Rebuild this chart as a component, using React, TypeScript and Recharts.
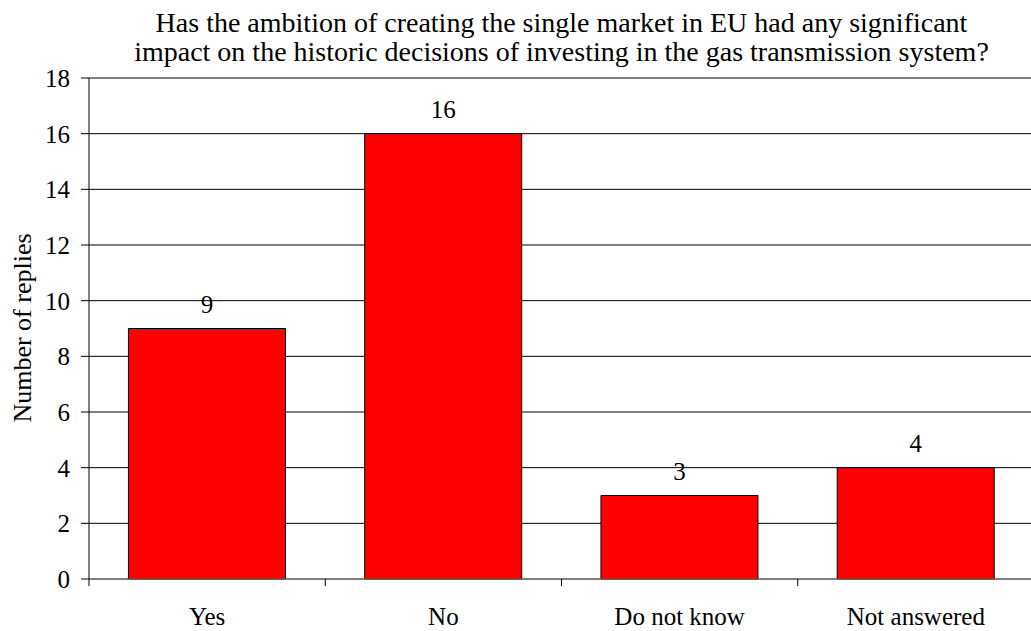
import React from 'react';
import { BarChart, Bar, XAxis, YAxis, CartesianGrid, LabelList } from 'recharts';

const categories = ['Yes', 'No', 'Do not know', 'Not answered'];
const replies = [9, 16, 3, 4];
const yTicks = [0, 2, 4, 6, 8, 10, 12, 14, 16, 18];

const chartData = categories.map((name, i) => ({ name, value: replies[i] }));

const FONT = '"Liberation Serif", "Times New Roman", serif';
const CHART_W = 1040;
const CHART_H = 631;
const MARGIN = { top: 78, right: 6, left: 0, bottom: 0 };
const Y_AXIS_W = 89;
const X_AXIS_H = 52;
const BAND = (CHART_W - MARGIN.left - MARGIN.right - Y_AXIS_W) / categories.length;

const CategoryTick = (props: any) => {
  const { x, y, payload } = props;
  return (
    <g>
      <line x1={x - BAND / 2} x2={x - BAND / 2} y1={y} y2={y + 7} stroke="#000" strokeWidth={1} />
      <text x={x} y={y + 46} textAnchor="middle" fontSize={25} fontFamily={FONT} fill="#000">
        {payload.value}
      </text>
    </g>
  );
};

const YLabel = () => (
  <text
    x={22}
    y={328}
    transform="rotate(-90 22 328)"
    textAnchor="middle"
    dominantBaseline="central"
    fontSize={26}
    fontFamily={FONT}
    fill="#000"
  >
    Number of replies
  </text>
);

export default function App() {
  return (
    <div
      style={{
        position: 'fixed',
        left: 0,
        top: 0,
        width: 1031,
        height: 631,
        overflow: 'hidden',
        background: '#fff',
      }}
    >
      <div
        style={{
          position: 'absolute',
          left: Y_AXIS_W - 10,
          top: 8,
          width: CHART_W - MARGIN.right - Y_AXIS_W + 20,
          textAlign: 'center',
          fontFamily: FONT,
          fontSize: 28,
          lineHeight: '29px',
          color: '#000',
          whiteSpace: 'nowrap',
        }}
      >
        Has the ambition of creating the single market in EU had any significant
        <br />
        impact on the historic decisions of investing in the gas transmission system?
      </div>
      <BarChart
        width={CHART_W}
        height={CHART_H}
        data={chartData}
        margin={MARGIN}
        barCategoryGap="16.7%"
      >
        <CartesianGrid vertical={false} stroke="#000" strokeWidth={1} />
        <XAxis
          dataKey="name"
          height={X_AXIS_H}
          stroke="#808080"
          tickLine={false}
          tickSize={0}
          tickMargin={0}
          tick={<CategoryTick />}
          interval={0}
        />
        <YAxis
          width={Y_AXIS_W}
          domain={[0, 18]}
          ticks={yTicks}
          interval={0}
          stroke="#000"
          tickSize={8}
          tickMargin={11}
          tick={{ fontSize: 25, fontFamily: FONT, fill: '#000' }}
          label={<YLabel />}
        />
        <Bar dataKey="value" fill="#FF0000" stroke="#000" strokeWidth={1} isAnimationActive={false}>
          <LabelList
            dataKey="value"
            position="top"
            offset={16}
            fontSize={25}
            fontFamily={FONT}
            fill="#000"
          />
        </Bar>
      </BarChart>
    </div>
  );
}
